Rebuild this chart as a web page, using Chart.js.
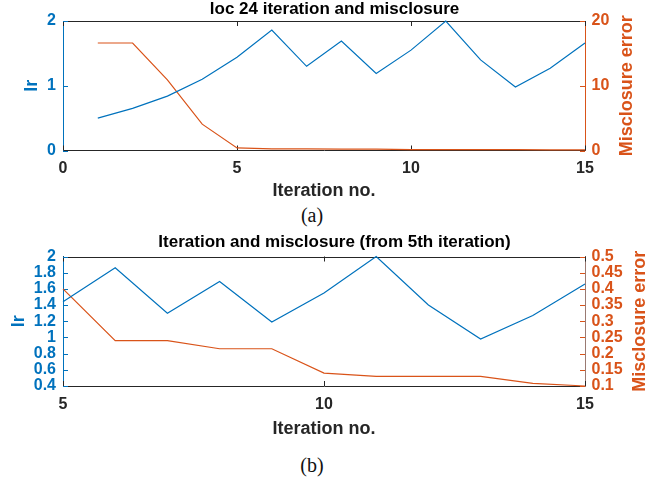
<!DOCTYPE html>
<html>
<head>
<meta charset="utf-8">
<script src="https://cdn.jsdelivr.net/npm/chart.js@4.4.1/dist/chart.umd.min.js"></script>
<style>
  body { margin: 0; width: 669px; height: 478px; background: #fff; position: relative; overflow: hidden; }
  canvas { position: absolute; left: 0; }
  #chartA { top: 0; }
  #chartB { top: 230px; }
  .caption {
    position: absolute; left: 262px; width: 100px; text-align: center;
    font-family: "Liberation Serif", "Times New Roman", serif; font-size: 20px; color: #111;
    line-height: 20px;
  }
</style>
</head>
<body>
<canvas id="chartA" width="669" height="202"></canvas>
<div class="caption" style="top:205px">(a)</div>
<canvas id="chartB" width="669" height="210"></canvas>
<div class="caption" style="top:455px">(b)</div>

<script>
const iterations = [1, 2, 3, 4, 5, 6, 7, 8, 9, 10, 11, 12, 13, 14, 15];
const lrValues   = [0.50, 0.65, 0.84, 1.10, 1.44, 1.86, 1.30, 1.69, 1.19, 1.55, 2.00, 1.40, 0.98, 1.27, 1.66];
const misclosure = [16.6, 16.6, 10.9, 4.07, 0.40, 0.24, 0.24, 0.215, 0.215, 0.14, 0.13, 0.13, 0.13, 0.108, 0.10];

// panel (b) zooms in from this iteration on
const zoomFrom = 5;

const xTicksA   = [0, 5, 10, 15];
const lrTicksA  = [0, 1, 2];
const misTicksA = [0, 10, 20];
const xTicksB   = [5, 10, 15];
const lrTicksB  = [0.4, 0.6, 0.8, 1, 1.2, 1.4, 1.6, 1.8, 2];
const misTicksB = [0.1, 0.15, 0.2, 0.25, 0.3, 0.35, 0.4, 0.45, 0.5];

const BLUE = '#0072BD';
const ORANGE = '#D95319';
const INK = '#262626';
const FONT = '"Liberation Sans", Arial, Helvetica, sans-serif';

Chart.defaults.font.family = FONT;

const fmt = v => String(+v.toFixed(3));

// box top edge, inward tick marks and the right-hand axis label
const framePlugin = {
  id: 'frame',
  beforeDatasetsDraw(chart) {
    const { ctx, chartArea: a, scales } = chart;
    const len = 5;
    ctx.save();
    ctx.lineWidth = 1;
    ctx.strokeStyle = INK;
    ctx.beginPath();
    ctx.moveTo(a.left, Math.round(a.top) + 0.5);
    ctx.lineTo(a.right, Math.round(a.top) + 0.5);
    ctx.stroke();

    scales.x.ticks.forEach(t => {
      const px = Math.round(scales.x.getPixelForValue(t.value)) + 0.5;
      ctx.beginPath();
      ctx.moveTo(px, a.bottom); ctx.lineTo(px, a.bottom - len);
      ctx.moveTo(px, a.top); ctx.lineTo(px, a.top + len);
      ctx.stroke();
    });

    ctx.strokeStyle = BLUE;
    scales.yL.ticks.forEach(t => {
      const py = Math.round(scales.yL.getPixelForValue(t.value)) + 0.5;
      ctx.beginPath();
      ctx.moveTo(a.left, py); ctx.lineTo(a.left + len, py);
      ctx.stroke();
    });

    ctx.strokeStyle = ORANGE;
    scales.yR.ticks.forEach(t => {
      const py = Math.round(scales.yR.getPixelForValue(t.value)) + 0.5;
      ctx.beginPath();
      ctx.moveTo(a.right, py); ctx.lineTo(a.right - len, py);
      ctx.stroke();
    });
    ctx.restore();
  },
  afterDraw(chart, args, opts) {
    const { ctx, chartArea: a } = chart;
    ctx.save();
    ctx.translate(opts.titleX, (a.top + a.bottom) / 2);
    ctx.rotate(-Math.PI / 2);
    ctx.font = 'bold 18px ' + FONT;
    ctx.fillStyle = ORANGE;
    ctx.textAlign = 'center';
    ctx.textBaseline = 'middle';
    ctx.fillText('Misclosure error', 0, 0);
    ctx.restore();
  }
};

function makePanel(id, p) {
  const pts = vals => iterations
    .map((x, i) => ({ x, y: vals[i] }))
    .filter(d => d.x >= p.xMin);

  return new Chart(document.getElementById(id), {
    type: 'line',
    data: {
      datasets: [
        { label: 'lr', data: pts(lrValues), yAxisID: 'yL', borderColor: BLUE,
          borderWidth: 1.2, pointRadius: 0, tension: 0, clip: 3 },
        { label: 'Misclosure error', data: pts(misclosure), yAxisID: 'yR', borderColor: ORANGE,
          borderWidth: 1.2, pointRadius: 0, tension: 0, clip: 3 }
      ]
    },
    options: {
      responsive: false,
      animation: false,
      layout: { padding: 0 },
      plugins: {
        legend: { display: false },
        tooltip: { enabled: false },
        title: {
          display: true, text: p.title, color: '#000',
          font: { size: 17, weight: 'bold', lineHeight: 1 },
          padding: p.titlePad
        },
        frame: { titleX: p.rightTitleX }
      },
      scales: {
        x: {
          type: 'linear', min: p.xMin, max: 15,
          afterBuildTicks: s => { s.ticks = p.xTicks.map(v => ({ value: v })); },
          afterFit: s => { s.height = p.xHeight; },
          grid: { display: false, drawTicks: false },
          border: { display: true, color: INK, width: 1 },
          ticks: { autoSkip: false, maxRotation: 0, padding: p.xTickPad, color: INK,
                   font: { size: 16, weight: 'bold' }, callback: fmt },
          title: { display: true, text: 'Iteration no.', color: INK,
                   font: { size: 18, weight: 'bold' }, padding: { top: 0, bottom: 0 } }
        },
        yL: {
          type: 'linear', position: 'left', min: p.lrTicks[0], max: p.lrTicks[p.lrTicks.length - 1],
          afterBuildTicks: s => { s.ticks = p.lrTicks.map(v => ({ value: v })); },
          afterFit: s => { s.width = 63; },
          grid: { display: false, drawTicks: false },
          border: { display: true, color: BLUE, width: 1 },
          ticks: { autoSkip: false, padding: 7, color: BLUE,
                   font: { size: 16, weight: 'bold' }, callback: fmt },
          title: { display: true, text: 'lr', color: BLUE,
                   font: { size: 18, weight: 'bold' }, padding: { top: p.lrTitlePad, bottom: 0 } }
        },
        yR: {
          type: 'linear', position: 'right', min: p.misTicks[0], max: p.misTicks[p.misTicks.length - 1],
          afterBuildTicks: s => { s.ticks = p.misTicks.map(v => ({ value: v })); },
          afterFit: s => { s.width = 84; },
          grid: { display: false, drawTicks: false },
          border: { display: true, color: p.rightEdge, width: 1 },
          ticks: { autoSkip: false, padding: 6.5, color: ORANGE,
                   font: { size: 16, weight: 'bold' }, callback: fmt }
        }
      }
    },
    plugins: [framePlugin]
  });
}

makePanel('chartA', {
  title: 'loc 24 iteration and misclosure',
  titlePad: { top: 0.5, bottom: 3.5 },
  xMin: 0, xTicks: xTicksA, xHeight: 51.5, xTickPad: 8,
  lrTicks: lrTicksA, lrTitlePad: 21.5,
  misTicks: misTicksA, rightEdge: ORANGE, rightTitleX: 627
});

makePanel('chartB', {
  title: 'Iteration and misclosure (from 5th iteration)',
  titlePad: { top: 3.5, bottom: 6 },
  xMin: zoomFrom, xTicks: xTicksB, xHeight: 54, xTickPad: 9.4,
  lrTicks: lrTicksB, lrTitlePad: 8,
  misTicks: misTicksB, rightEdge: '#9a7a72', rightTitleX: 640
});
</script>
</body>
</html>
